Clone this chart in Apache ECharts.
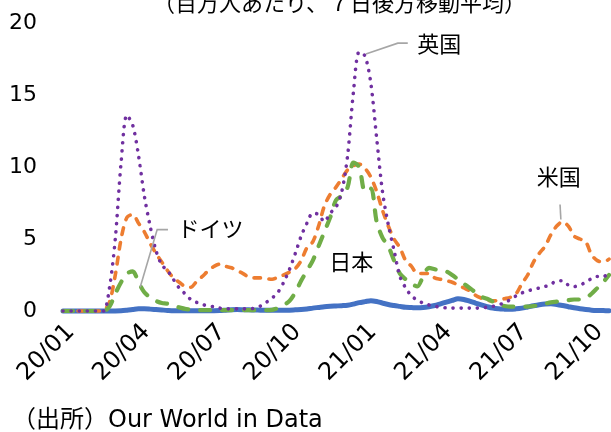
<!DOCTYPE html>
<html>
<head>
<meta charset="utf-8">
<script src="https://cdn.jsdelivr.net/npm/echarts@6/dist/echarts.min.js"></script>
<style>
  html, body { margin: 0; padding: 0; background: #fff; }
  #chart { width: 611px; height: 432px; }
</style>
</head>
<body>
<div id="chart"></div>
<script>
// Daily deaths per million, 7-day trailing average, sampled weekly from 2020-01-22
const startDate = '2020-01-22';
const weekStep = 7;

const japan = [
  0, 0, 0, 0, 0, 0, 0, 0, 0, 0,
  0.01, 0.05, 0.1, 0.15, 0.15, 0.13, 0.1, 0.07, 0.04,
  0.02, 0.02, 0.02, 0.02, 0.02, 0.02, 0.02, 0.02,
  0.03, 0.06, 0.09, 0.1, 0.09, 0.08, 0.07, 0.06, 0.05, 0.05, 0.05, 0.05,
  0.06, 0.08, 0.1, 0.14, 0.2, 0.25, 0.3, 0.33, 0.35, 0.37, 0.4,
  0.48, 0.58, 0.65, 0.72, 0.66, 0.55, 0.45, 0.38, 0.32, 0.26, 0.24, 0.22,
  0.24, 0.3, 0.38, 0.5, 0.62, 0.74, 0.85, 0.8, 0.68, 0.55, 0.42, 0.3, 0.2,
  0.15, 0.13, 0.12, 0.15, 0.2, 0.28, 0.36, 0.43, 0.48, 0.5, 0.45, 0.38,
  0.3, 0.22, 0.15, 0.1, 0.06, 0.04, 0.03, 0.02
];

const usa = [
  0, 0, 0, 0, 0, 0, 0,
  0.05, 0.6, 2.5, 5.0, 6.5, 6.7, 6.1, 5.5, 4.7, 4.0, 3.4, 2.8,
  2.3, 2.0, 1.7, 1.65, 2.05, 2.4, 2.8, 3.1, 3.25, 3.1, 3.0, 2.8,
  2.6, 2.35, 2.3, 2.3, 2.25, 2.2, 2.35, 2.5, 2.7, 2.95, 3.5, 4.4,
  4.8, 5.9, 7.3, 8.1, 8.6, 9.2, 9.8, 10.1, 10.2, 9.9, 9.3, 8.3,
  7.0, 5.9, 5.0, 4.4, 3.5, 3.1, 2.6, 2.6, 2.6, 2.3, 2.2, 2.1,
  2.0, 1.8, 1.6, 1.4, 1.1, 0.9, 0.75, 0.7, 0.75, 0.85, 0.95, 1.2,
  1.9, 2.5, 3.4, 4.0, 4.5, 5.3, 5.9, 6.2, 5.9, 5.2, 5.0, 4.8,
  3.9, 3.5, 3.4, 3.6
];

const germany = [
  0, 0, 0, 0, 0, 0, 0, 0,
  0.3, 1.2, 2.0, 2.6, 2.75, 2.0, 1.3, 0.95, 0.7, 0.55, 0.5, 0.35,
  0.25, 0.15, 0.1, 0.08,
  0.06, 0.06, 0.06, 0.06, 0.06, 0.06, 0.06, 0.06, 0.06, 0.06, 0.06, 0.06, 0.08, 0.2,
  0.4, 0.7, 1.3, 2.1, 2.8, 3.5, 4.5, 5.5, 6.5, 7.7, 8.0, 8.6,
  10.3, 10.0, 8.3, 8.5, 6.2, 5.1, 4.5, 3.5, 2.6, 2.2, 1.9, 1.7,
  2.4, 3.0, 2.9, 2.8, 2.75, 2.5, 2.2, 1.9, 1.6, 1.3, 1.0, 0.85,
  0.65, 0.45, 0.35, 0.3, 0.3, 0.3, 0.3, 0.35, 0.4, 0.5, 0.6, 0.65,
  0.7, 0.75, 0.8, 0.8, 0.9, 1.2, 1.6, 2.0, 2.5
];

const uk = [
  0, 0, 0, 0, 0, 0, 0,
  0, 1.6, 5.0, 10.3, 13.6,
  12.9, 10.8, 8.0, 5.9, 4.2, 3.2, 2.8, 2.2, 1.6, 1.2, 0.8, 0.6,
  0.45, 0.35, 0.3, 0.2, 0.15, 0.15, 0.15, 0.15, 0.15, 0.2, 0.35,
  0.6, 0.9, 1.3, 2.0, 2.9, 4.0, 5.2, 6.1, 6.8, 6.7, 6.2, 6.8, 7.2,
  8.3, 10.8, 15.2, 18.0, 17.7, 15.8, 12.0, 8.3, 6.0, 4.2, 2.4, 1.6,
  1.05, 0.75, 0.55, 0.42, 0.33, 0.27, 0.22, 0.2, 0.2, 0.2, 0.2, 0.2, 0.2,
  0.27, 0.32, 0.45, 0.55, 0.8, 1.05, 1.25, 1.4, 1.5, 1.6, 1.7, 1.85,
  2.1, 2.1, 1.8, 1.7, 1.8, 2.0, 2.25, 2.4, 2.4, 2.6
];

const yTicks = [0, 5, 10, 15, 20];
const tickEvery = 91; // quarterly label spacing, in days

const FONT = '"DejaVu Sans", "Noto Sans CJK JP", sans-serif';
const CJK_FONT = '"Noto Sans CJK JP", sans-serif';
const DAY_MS = 86400000;
const t0 = Date.parse(startDate + 'T00:00:00Z');

function toPairs(values) {
  return values.map((v, i) => [i * weekStep, v]);
}
const lastDay = (uk.length - 1) * weekStep;

function dayLabel(d) {
  const dt = new Date(t0 + d * DAY_MS);
  const yy = String(dt.getUTCFullYear()).slice(2);
  const mm = String(dt.getUTCMonth() + 1).padStart(2, '0');
  return yy + '/' + mm;
}

const chart = echarts.init(document.getElementById('chart'), null, { renderer: 'canvas' });

function lineSeries(name, values, color, width, dash) {
  return {
    name: name,
    type: 'line',
    data: toPairs(values),
    showSymbol: false,
    smooth: 0.3,
    clip: false,
    lineStyle: { color: color, width: width, type: dash, cap: 'round', join: 'round' },
    emphasis: { disabled: true },
    silent: true
  };
}

const option = {
  animation: false,
  backgroundColor: '#ffffff',
  textStyle: { fontFamily: FONT },
  title: {
    text: '（百万人あたり、７日後方移動平均）',
    left: 148,
    top: -13,
    textStyle: { fontSize: 22, fontWeight: 'normal', color: '#000', fontFamily: CJK_FONT }
  },
  grid: { left: 63, right: 2, top: 23, bottom: 121, containLabel: false },
  xAxis: {
    type: 'value',
    min: 0,
    max: lastDay,
    interval: tickEvery,
    axisLine: { show: false },
    axisTick: { show: false },
    splitLine: { show: false },
    axisLabel: {
      rotate: 45,
      margin: 25,
      padding: [0, -11, 0, 0],
      fontSize: 24,
      color: '#000',
      fontFamily: FONT,
      showMaxLabel: false,
      formatter: (v) => dayLabel(v)
    }
  },
  yAxis: {
    type: 'value',
    min: yTicks[0],
    max: yTicks[yTicks.length - 1],
    interval: 5,
    axisLine: { show: false },
    axisTick: { show: false },
    splitLine: { show: false },
    axisLabel: { fontSize: 22, color: '#000', margin: 26, fontFamily: FONT }
  },
  series: [
    lineSeries('日本', japan, '#4472C4', 5, 'solid'),
    lineSeries('米国', usa, '#ED7D31', 3.6, [6.5, 8.5]),
    lineSeries('ドイツ', germany, '#70AD47', 4.2, [10, 12]),
    lineSeries('英国', uk, '#7030A0', 3.6, [0.1, 8])
  ]
};

chart.setOption(option);

// Callouts placed in data coordinates
const px = (d, v) => chart.convertToPixel({ gridIndex: 0 }, [d, v]);
const LEADER = { stroke: '#A6A6A6', lineWidth: 1.6 };
function leader(points) {
  return { type: 'polyline', shape: { points: points.map(p => px(p[0], p[1])) }, style: LEADER, silent: true, z: 10 };
}
function note(text, d, v) {
  const p = px(d, v);
  return {
    type: 'text', x: p[0], y: p[1], silent: true, z: 10,
    style: { text: text, fill: '#000', font: '22px ' + CJK_FONT, textVerticalAlign: 'middle', textAlign: 'left' }
  };
}

chart.setOption({
  graphic: [
    leader([[365, 17.85], [403.5, 18.6], [415.5, 18.6]]),
    note('英国', 427, 18.6),
    leader([[93, 1.65], [113.5, 5.65], [126.5, 5.65]]),
    note('ドイツ', 138, 5.7),
    note('日本', 321, 3.45),
    leader([[599, 7.4], [600, 6.35]]),
    note('米国', 571, 9.3),
    {
      type: 'text', left: 12, top: 409, silent: true,
      style: { text: '（出所）Our World in Data', fill: '#000', font: '24px ' + FONT }
    }
  ]
});
</script>
</body>
</html>
